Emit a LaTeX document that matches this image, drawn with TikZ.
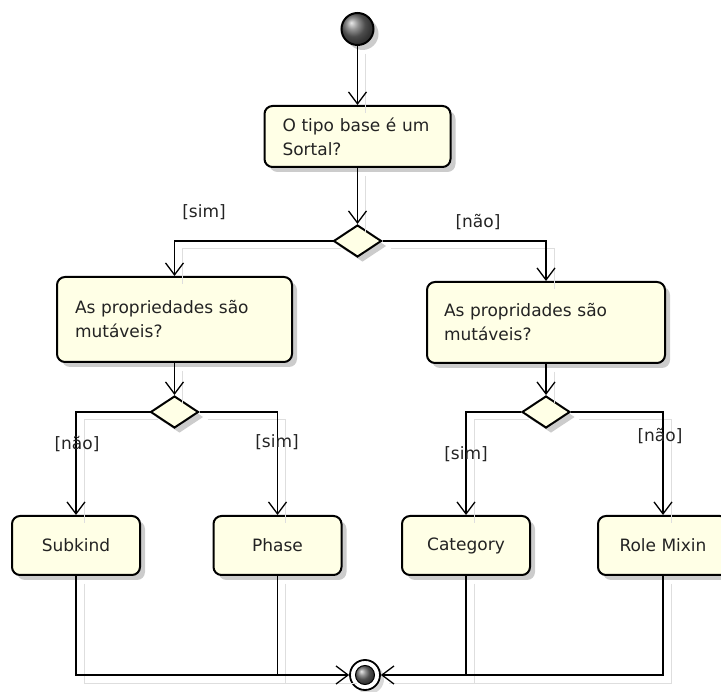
\documentclass[tikz,border=0pt]{standalone}
\usepackage{fontspec}
\setmainfont{DejaVu Sans}
\usetikzlibrary{arrows.meta,shapes.geometric,shadows}
\definecolor{boxfill}{RGB}{255,255,230}
\definecolor{txt}{RGB}{35,35,35}
\begin{document}
\begin{tikzpicture}[x=1pt,y=-1pt,
  font=\fontsize{17}{24}\selectfont,
  act/.style={draw=black, line width=2pt, rounded corners=8pt, fill=boxfill,
    drop shadow={shadow xshift=5pt, shadow yshift=-5pt, opacity=0.2, fill=black},
    text=txt, inner ysep=0pt},
  qbox/.style={act, align=left, inner xsep=18pt},
  leaf/.style={act, minimum width=128pt, minimum height=59pt, align=center},
  dec/.style={diamond, draw=black, line width=2pt, fill=boxfill, inner sep=0pt,
    minimum width=48pt, minimum height=32pt,
    drop shadow={shadow xshift=5pt, shadow yshift=-5pt, opacity=0.2, fill=black}},
  arr/.style={-{Straight Barb[length=12pt,width=18pt,line width=1.3pt]}, line width=1.3pt},
  plain/.style={line width=1.3pt},
  lbl/.style={text=txt, inner sep=0pt}
]
\useasboundingbox (0,0) rectangle (721,692);
\clip (0,0) rectangle (721,692);

% nodes
\node[circle, draw=black, line width=2pt, minimum size=32pt, inner sep=0pt,
  ball color=gray!85!black,
  drop shadow={shadow xshift=5pt, shadow yshift=-5pt, opacity=0.2, fill=black}] (start) at (357.5,29) {};

\node[qbox, minimum width=186pt, minimum height=61pt, text width=150pt] (b1) at (357.5,136.5) {O tipo base é um\\Sortal?};

\node[dec] (d1) at (357.5,241) {};

\node[qbox, minimum width=235pt, minimum height=85pt, text width=199pt] (b2) at (174.5,319.5) {As propriedades são\\mutáveis?};
\node[qbox, inner xsep=17pt, minimum width=238pt, minimum height=81pt, text width=204pt] (b3) at (546,322.5) {As propridades são\\mutáveis?};

\node[dec] (d2) at (174.5,412) {};
\node[dec] (d3) at (546,412) {};

\node[leaf] (sub) at (76,545.5) {Subkind};
\node[leaf] (pha) at (277.5,545.5) {Phase};
\node[leaf] (cat) at (466,545.5) {Category};
\node[leaf, minimum width=130pt] (role) at (663,545.5) {Role Mixin};

\node[circle, draw=black, line width=1.8pt, fill=white, minimum size=30pt, inner sep=0pt,
  drop shadow={shadow xshift=4pt, shadow yshift=-4pt, opacity=0.15, fill=black}] (end) at (365,675) {};
\node[circle, draw=black, line width=1pt, ball color=gray!85!black, minimum size=19pt, inner sep=0pt] (endin) at (end) {};

% faint connector shadows
\begin{scope}[transform canvas={shift={(8pt,-8pt)}}, draw=black!13, line width=1pt]
\draw (start) -- (b1);
\draw (b1) -- (d1);
\draw (d1.west) -| (b2.north);
\draw (d1.east) -| (b3.north);
\draw (b2) -- (d2);
\draw (b3) -- (d3);
\draw (d2.west) -| (sub.north);
\draw (d2.east) -| (pha.north);
\draw (d3.west) -| (cat.north);
\draw (d3.east) -| (role.north);
\draw (sub.south) |- (end.west);
\draw (pha.south) -- (pha.south |- end.west);
\draw (role.south) |- (end.east);
\draw (cat.south) -- (cat.south |- end.east);
\end{scope}

% connectors
\draw[arr] (start) -- (b1);
\draw[arr] (b1) -- (d1);
\draw[arr] (d1.west) -| (b2.north);
\draw[arr] (d1.east) -| (b3.north);
\draw[arr] (b2) -- (d2);
\draw[arr] (b3) -- (d3);
\draw[arr] (d2.west) -| (sub.north);
\draw[arr] (d2.east) -| (pha.north);
\draw[arr] (d3.west) -| (cat.north);
\draw[arr] (d3.east) -| (role.north);
\draw[arr] (sub.south) |- (end.west);
\draw[plain] (pha.south) -- (pha.south |- end.west);
\draw[arr] (role.south) |- (end.east);
\draw[plain] (cat.south) -- (cat.south |- end.east);

% guard labels
\node[lbl] (l1) at (204,212) {[sim]};
\node[lbl] (l2) at (478,222) {[não]};
\node[lbl] (l3) at (77,444) {[não]};
\node[lbl] (l4) at (277,442) {[sim]};
\node[lbl] (l5) at (466,454) {[sim]};
\node[lbl] (l6) at (660,436) {[não]};
\end{tikzpicture}
\end{document}
